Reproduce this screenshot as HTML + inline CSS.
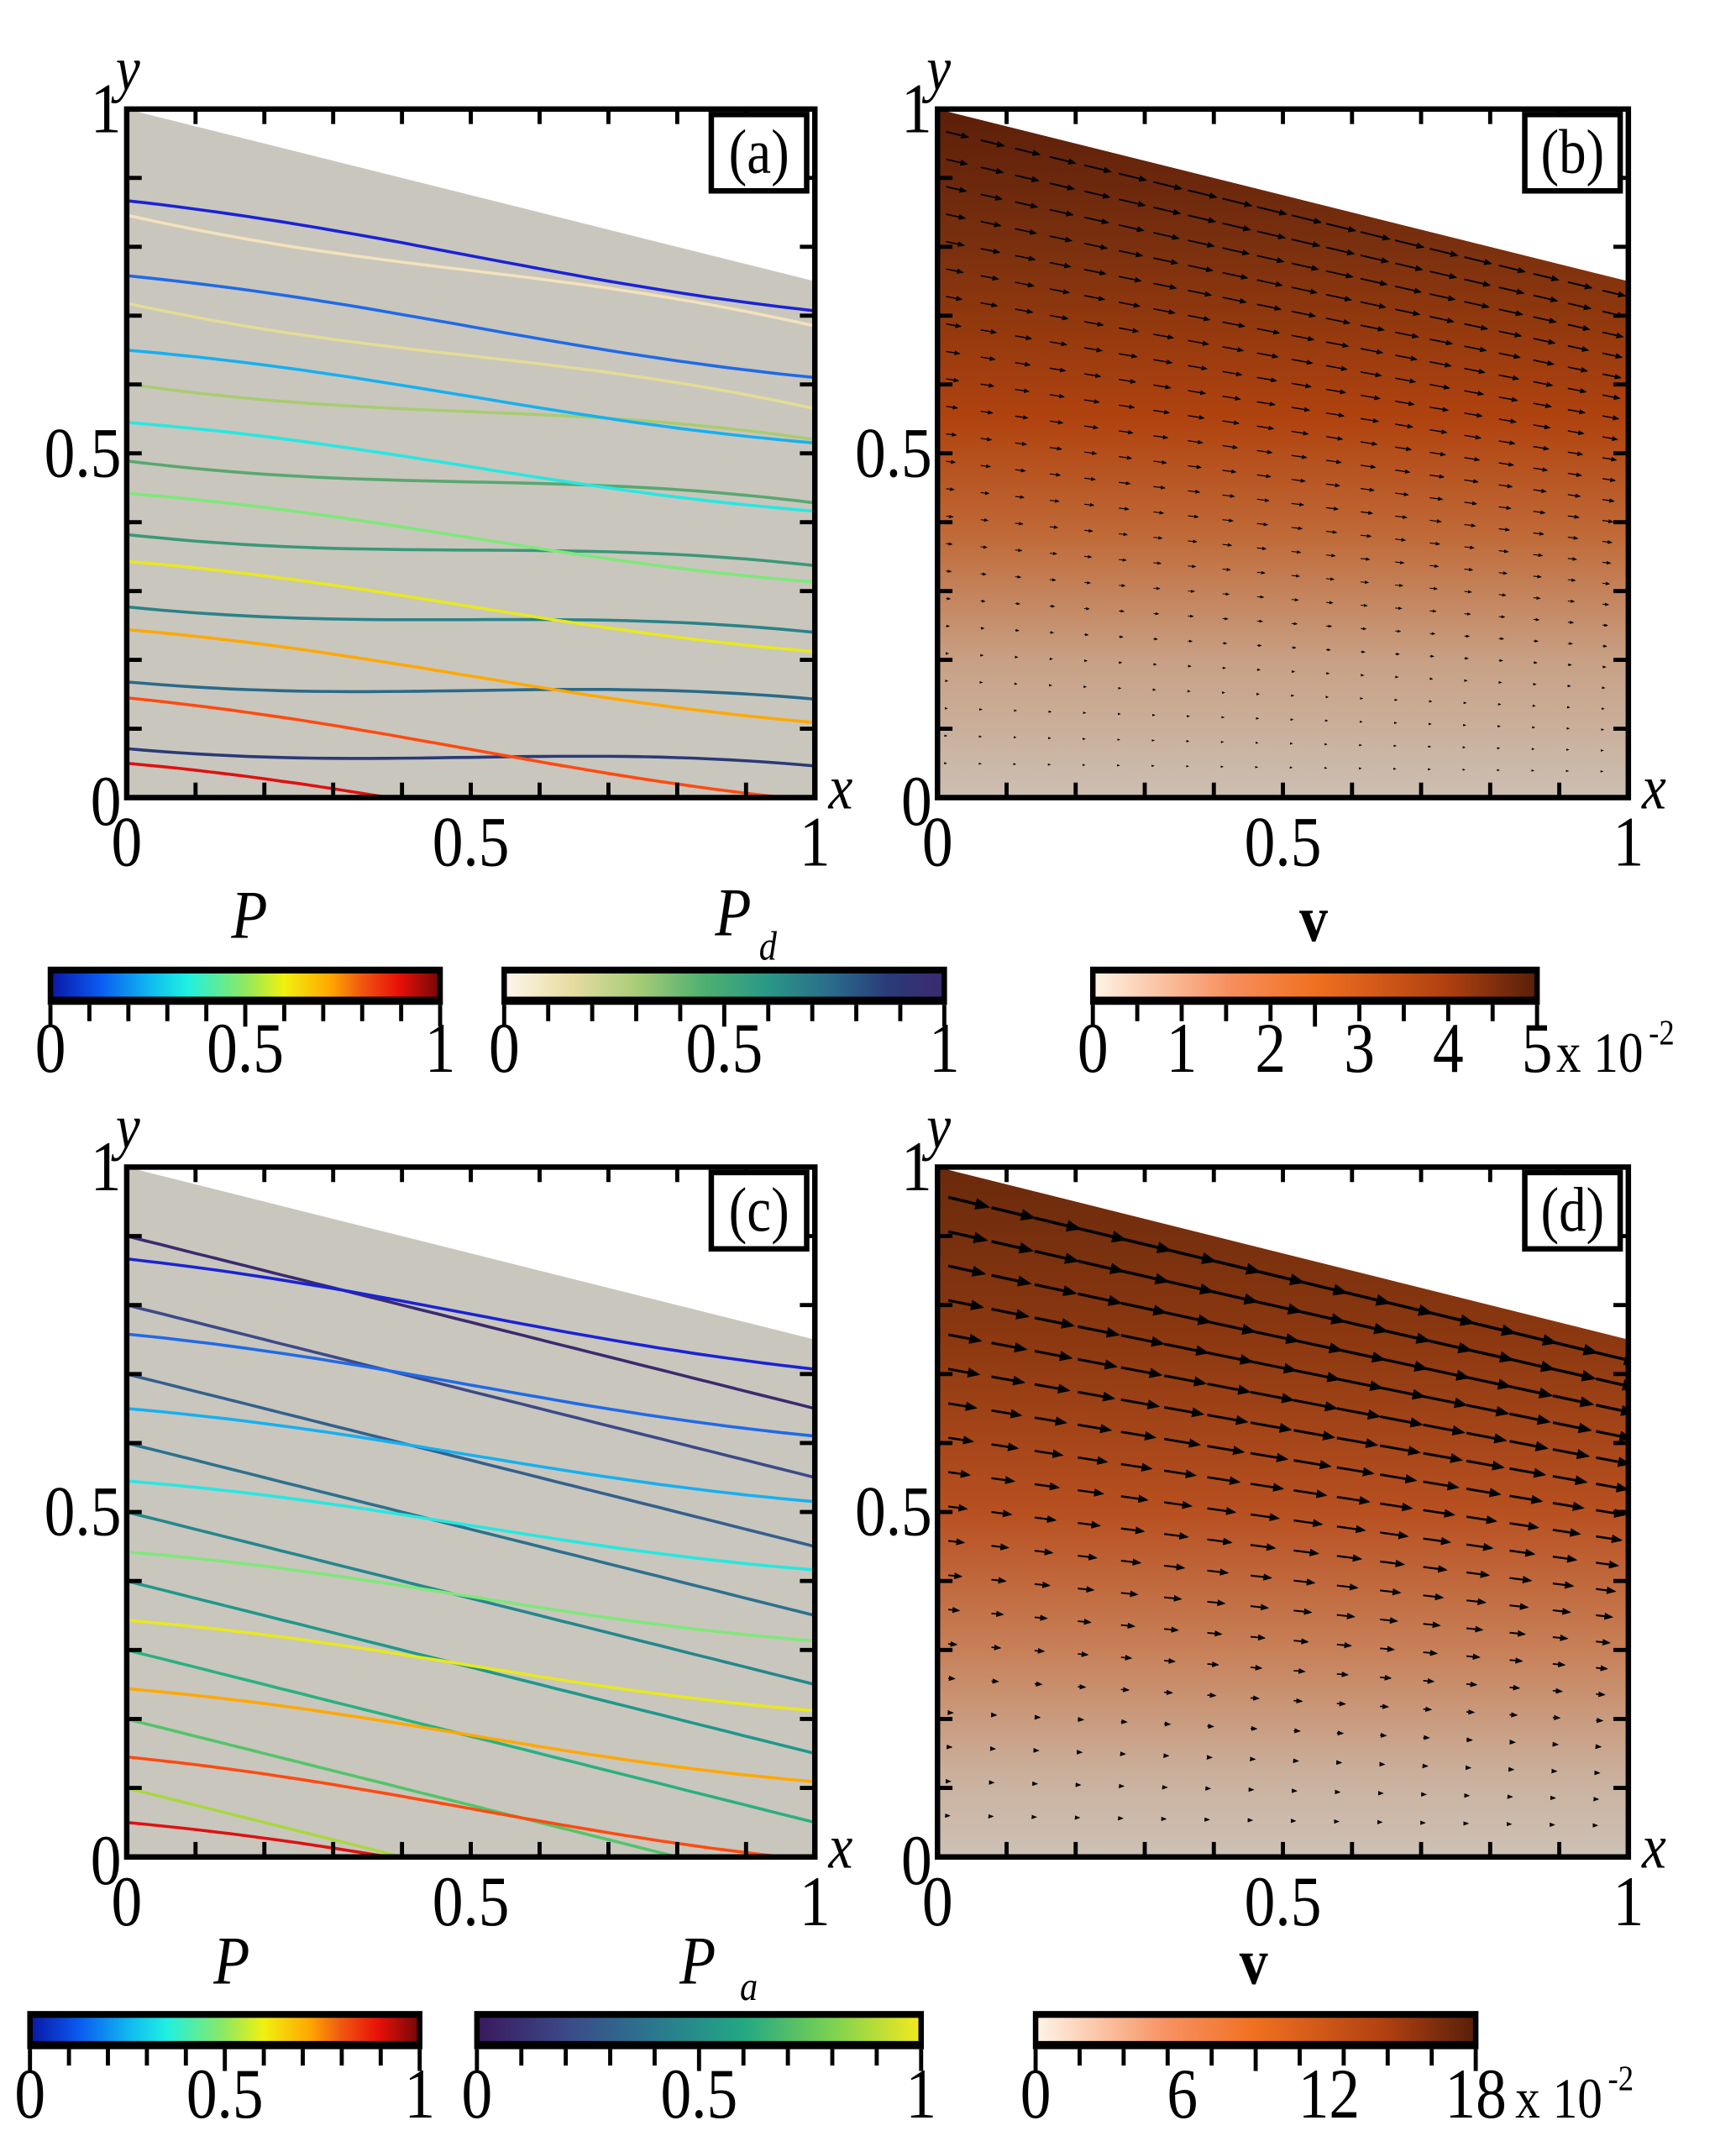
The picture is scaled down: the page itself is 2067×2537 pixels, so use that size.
<!DOCTYPE html>
<html><head><meta charset="utf-8"><style>
html,body{margin:0;padding:0;background:#fff}
svg{display:block}
text{font-family:"Liberation Serif",serif;fill:#000}
</style></head><body>
<svg id="fig" width="2067" height="2537" viewBox="0 0 1274 1563" preserveAspectRatio="none" xmlns="http://www.w3.org/2000/svg">
<defs>
<linearGradient id="jet" x1="0" x2="1" y1="0" y2="0">
<stop offset="0" stop-color="#0a1aa8"/><stop offset="0.12" stop-color="#0a5af0"/><stop offset="0.25" stop-color="#10b8f0"/><stop offset="0.35" stop-color="#20f0e0"/><stop offset="0.5" stop-color="#90e860"/><stop offset="0.6" stop-color="#f0f010"/><stop offset="0.72" stop-color="#ffa800"/><stop offset="0.8" stop-color="#f05a10"/><stop offset="0.9" stop-color="#e81008"/><stop offset="1" stop-color="#7a0808"/></linearGradient>
<linearGradient id="pdg" x1="0" x2="1" y1="0" y2="0">
<stop offset="0" stop-color="#fdf5ea"/><stop offset="0.15" stop-color="#e6dca0"/><stop offset="0.3" stop-color="#a8cc78"/><stop offset="0.45" stop-color="#50b070"/><stop offset="0.6" stop-color="#2a9888"/><stop offset="0.75" stop-color="#2a6a8a"/><stop offset="0.88" stop-color="#2a3a78"/><stop offset="1" stop-color="#3c2a70"/></linearGradient>
<linearGradient id="vir" x1="0" x2="1" y1="0" y2="0">
<stop offset="0" stop-color="#3a1a5e"/><stop offset="0.2" stop-color="#3b4a88"/><stop offset="0.4" stop-color="#2a788e"/><stop offset="0.6" stop-color="#22a884"/><stop offset="0.8" stop-color="#7ad151"/><stop offset="1" stop-color="#f0e820"/></linearGradient>
<linearGradient id="vel" x1="0" x2="1" y1="0" y2="0">
<stop offset="0" stop-color="#fdf3e4"/><stop offset="0.3" stop-color="#f79060"/><stop offset="0.5" stop-color="#f07020"/><stop offset="0.8" stop-color="#b04010"/><stop offset="1" stop-color="#5a200a"/></linearGradient>
<linearGradient id="fieldB" x1="0" x2="0" y1="0" y2="1">
<stop offset="0" stop-color="#5c1f0a"/><stop offset="0.2" stop-color="#7a300e"/><stop offset="0.45" stop-color="#b0430f"/><stop offset="0.62" stop-color="#c06a38"/><stop offset="0.8" stop-color="#c8a084"/><stop offset="1" stop-color="#ccbfb2"/></linearGradient>
<linearGradient id="fieldD" x1="0" x2="0" y1="0" y2="1">
<stop offset="0" stop-color="#6a2a0c"/><stop offset="0.25" stop-color="#8c3810"/><stop offset="0.5" stop-color="#b85020"/><stop offset="0.7" stop-color="#c88058"/><stop offset="0.88" stop-color="#cab09c"/><stop offset="1" stop-color="#cdc1b6"/></linearGradient>
<marker id="ah" markerWidth="5" markerHeight="4" refX="4" refY="2" orient="auto" markerUnits="strokeWidth"><path d="M0,0 L5,2 L0,4 z" fill="#000"/></marker>
</defs>
<g id="root"></g>
</svg>
<script>
// ---- data ----
const pY0 = [0.867, 0.758, 0.650, 0.545, 0.442, 0.343, 0.244, 0.145, 0.05];
const pY1 = [0.707, 0.610, 0.515, 0.416, 0.313, 0.212, 0.109, -0.005, -0.09];
const pColors = ["#1a22d8","#1f6ae8","#16b0f0","#25e8e0","#7ee87a","#e8e820","#ffa800","#ff4a10","#e01010"];
const pdY0 = [0.846, 0.718, 0.601, 0.489, 0.382, 0.277, 0.168, 0.071];
const pdY1 = [0.685, 0.565, 0.520, 0.428, 0.337, 0.240, 0.143, 0.046];
const pdColors = ["#f3e2bc","#e2dc98","#a8cc70","#58a870","#3a9878","#2a8288","#2a6a8a","#2a3a78"];
const paY0 = [0.90, 0.80, 0.70, 0.60, 0.50, 0.40, 0.30, 0.20, 0.10];
const paY1 = [0.65, 0.55, 0.45, 0.35, 0.25, 0.15, 0.05, -0.05, -0.15];
const paColors = ["#3b2a6e","#3d4a88","#35608d","#2c718e","#23878d","#1f988b","#2ab07f","#52c569","#a8d840"];
const xTicks = [0, 0.5, 1];
const yTicks = [0, 0.5, 1];
const cbTicksA = ["0","0.5","1"];
const vTicksB = ["0","1","2","3","4","5"];
const vTicksD = ["0","6","12","18"];
const arrowRowsB = [0.97,0.93,0.89,0.85,0.81,0.77,0.73,0.69,0.65,0.61,0.57,0.53,0.49,0.45,0.41,0.37,0.33,0.29,0.25,0.21,0.17,0.13,0.09,0.05];
const arrowMagB  = [1.0,0.95,0.9,0.85,0.8,0.75,0.7,0.65,0.6,0.55,0.5,0.45,0.4,0.35,0.3,0.26,0.22,0.18,0.14,0.1,0.07,0.05,0.03,0.02];
const arrowRowsD = [0.96,0.91,0.86,0.81,0.76,0.71,0.66,0.61,0.56,0.51,0.46,0.41,0.36,0.31,0.26,0.21,0.16,0.11,0.06];
const arrowMagD  = [1.0,0.95,0.9,0.85,0.8,0.75,0.68,0.6,0.52,0.45,0.38,0.32,0.26,0.2,0.15,0.11,0.08,0.05,0.03];

const NS = "http://www.w3.org/2000/svg";
const root = document.getElementById("root");
function mk(tag, attrs, parent) {
  const e = document.createElementNS(NS, tag);
  for (const k in attrs) e.setAttribute(k, attrs[k]);
  (parent || root).appendChild(e);
  return e;
}
function txt(s, x, y, size, parent, extra) {
  const t = mk("text", Object.assign({x: 0, y: 0, "font-size": size, transform: `translate(${x},${y}) scale(0.87,1)`}, extra || {}), parent);
  t.textContent = s;
  return t;
}

function panel(id, x0, x1, yb, yt, label, kind) {
  const g = mk("g", {});
  
  
  const sx = v => x0 + v * (x1 - x0);
  const sy = v => yb - v * (yb - yt);
  const clipId = "clip" + id;
  const cp = mk("clipPath", {id: clipId}, g);
  mk("polygon", {points: `${sx(0)},${sy(1)} ${sx(1)},${sy(0.75)} ${sx(1)},${sy(0)} ${sx(0)},${sy(0)}`}, cp);
  const dom = mk("polygon", {points: `${sx(0)},${sy(1)} ${sx(1)},${sy(0.75)} ${sx(1)},${sy(0)} ${sx(0)},${sy(0)}`,
    fill: kind === "lines" ? "#c9c6bd" : (id === "b" ? "url(#fieldB)" : "url(#fieldD)")}, g);
  
  
  const cg = mk("g", {"clip-path": `url(#${clipId})`}, g);
  function lineSet(a0, a1, cols, name, bend) {
    a0.forEach((v0, i) => {
      const v1 = a1[i];
      let pts = [];
      for (let k = 0; k <= 40; k++) {
        const x = k / 40;
        const y = v0 + (v1 - v0) * x + bend * Math.sin(Math.PI * x) * (x - 0.5);
        pts.push(sx(x).toFixed(1) + "," + sy(y).toFixed(1));
      }
      const pl = mk("polyline", {points: pts.join(" "), fill: "none", stroke: cols[i], "stroke-width": 2.2}, cg);
      
      
    });
  }
  if (kind === "lines") {
    if (id === "a") lineSet(pdY0, pdY1, pdColors, "pd", 0.04);
    else lineSet(paY0, paY1, paColors, "pa", 0);
    lineSet(pY0, pY1, pColors, "p", -0.03);
  } else {
    const rows = id === "b" ? arrowRowsB : arrowRowsD;
    const mags = id === "b" ? arrowMagB : arrowMagD;
    const maxLen = id === "b" ? 19 : 34;
    const ncol = id === "b" ? 20 : 16;
    const sw = id === "b" ? 1.2 : 2.2;
    rows.forEach((r, i) => {
      for (let c = 0; c < ncol; c++) {
        const x = (c + 0.25) / ncol;
        const top = 1 - 0.25 * x;
        const y = r * top;
        const ang = Math.atan(0.25 * (y / top) * (x1 - x0) / (yb - yt));
        const L = maxLen * mags[i] * (0.85 + 0.3 * Math.sin(Math.PI * x));
        const px = sx(x), py = sy(y);
        const a = mk("line", {x1: px, y1: py, x2: px + L * Math.cos(ang), y2: py + L * Math.sin(ang),
          stroke: "#000", "stroke-width": sw * (0.35 + 0.65 * mags[i]), "marker-end": "url(#ah)"}, cg);
        
        
      }
    });
  }
  mk("polygon", {points: `${sx(0)},${sy(1)} ${sx(1)},${sy(0.75)} ${sx(1)},${yt} ${sx(0)},${yt}`, fill: "#fff"}, g);
  for (let k = 1; k < 10; k++) {
    const v = k / 10;
    mk("line", {x1: sx(v), x2: sx(v), y1: yb, y2: yb - 11, stroke: "#000", "stroke-width": 3}, g);
    mk("line", {x1: sx(v), x2: sx(v), y1: yt, y2: yt + 11, stroke: "#000", "stroke-width": 3}, g);
    mk("line", {x1: x0, x2: x0 + 11, y1: sy(v), y2: sy(v), stroke: "#000", "stroke-width": 3}, g);
    mk("line", {x1: x1, x2: x1 - 11, y1: sy(v), y2: sy(v), stroke: "#000", "stroke-width": 3}, g);
  }
  const fr = mk("rect", {x: x0, y: yt, width: x1 - x0, height: yb - yt, fill: "none", stroke: "#000", "stroke-width": 4}, g);
  
  
  xTicks.forEach(v => {
    const t = txt(String(v), sx(v), yb + 50, 52, g, {"text-anchor": "middle"});
    
    
  });
  yTicks.forEach(v => {
    const t = txt(String(v), x0 - 4, sy(v) + (v === 0 ? 20 : 17), 52, g, {"text-anchor": "end"});
    
    
  });
  const yl = txt("y", x0 - 8, yt - 14, 46, g, {"font-style": "italic"});
  
  
  const xl = txt("x", x1 + 10, yb + 8, 46, g, {"font-style": "italic"});
  
  
  const lb = mk("rect", {x: x1 - 76, y: yt + 4, width: 70, height: 56, fill: "#fff", stroke: "#000", "stroke-width": 4}, g);
  
  
  const lt = txt(label, x1 - 41, yt + 47, 46, g, {"text-anchor": "middle"});
  
  
}

panel("a", 93, 598, 585, 80, "(a)", "lines");
panel("b", 688, 1195, 585, 80, "(b)", "field");
panel("c", 93, 598, 1362, 856, "(c)", "lines");
panel("d", 688, 1195, 1362, 856, "(d)", "field");

function colorbar(name, x0, x1, y0, y1, grad, labels, labelY) {
  const g = mk("g", {});
  
  
  mk("rect", {x: x0, y: y0, width: x1 - x0, height: y1 - y0, fill: "#000"}, g);
  mk("rect", {x: x0 + 4, y: y0 + 5, width: x1 - x0 - 8, height: y1 - y0 - 11, fill: grad}, g);
  for (let k = 0; k <= 10; k++) {
    const x = x0 + 2 + k * (x1 - x0 - 4) / 10;
    mk("line", {x1: x, x2: x, y1: y1, y2: y1 + (k % 5 === 0 ? 16 : 12), stroke: "#000", "stroke-width": 3}, g);
  }
  labels.forEach((s, i) => {
    const x = x0 + 2 + i * (x1 - x0 - 4) / (labels.length - 1);
    const t = txt(s, x, labelY, 52, g, {"text-anchor": "middle"});
    
    
  });
  return g;
}
const cb1 = colorbar("colorbar-p-top", 35, 325, 709, 737, "url(#jet)", cbTicksA, 786);
txt("P", 183, 688, 50, cb1, {"font-style": "italic", "text-anchor": "middle"});
const cb2 = colorbar("colorbar-pd", 368, 695, 709, 737, "url(#pdg)", cbTicksA, 786);
txt("P", 538, 686, 50, cb2, {"font-style": "italic", "text-anchor": "middle"});
txt("d", 557, 704, 30, cb2, {"font-style": "italic"});
const cb3 = colorbar("colorbar-v-top", 800, 1130, 709, 737, "url(#vel)", vTicksB, 786);
txt("v", 964, 690, 48, cb3, {"font-weight": "bold", "text-anchor": "middle"});
txt("x 10", 1142, 786, 42, cb3);
txt("-2", 1210, 766, 26, cb3);
const cb4 = colorbar("colorbar-p-bottom", 20, 310, 1475, 1503, "url(#jet)", cbTicksA, 1553);
txt("P", 170, 1455, 50, cb4, {"font-style": "italic", "text-anchor": "middle"});
const cb5 = colorbar("colorbar-pa", 348, 678, 1475, 1503, "url(#vir)", cbTicksA, 1553);
txt("P", 512, 1455, 50, cb5, {"font-style": "italic", "text-anchor": "middle"});
txt("a", 543, 1467, 30, cb5, {"font-style": "italic"});
const cb6 = colorbar("colorbar-v-bottom", 758, 1085, 1475, 1503, "url(#vel)", vTicksD, 1553);
txt("v", 920, 1455, 48, cb6, {"font-weight": "bold", "text-anchor": "middle"});
txt("x 10", 1112, 1553, 42, cb6);
txt("-2", 1180, 1533, 26, cb6);
</script>
</body></html>
